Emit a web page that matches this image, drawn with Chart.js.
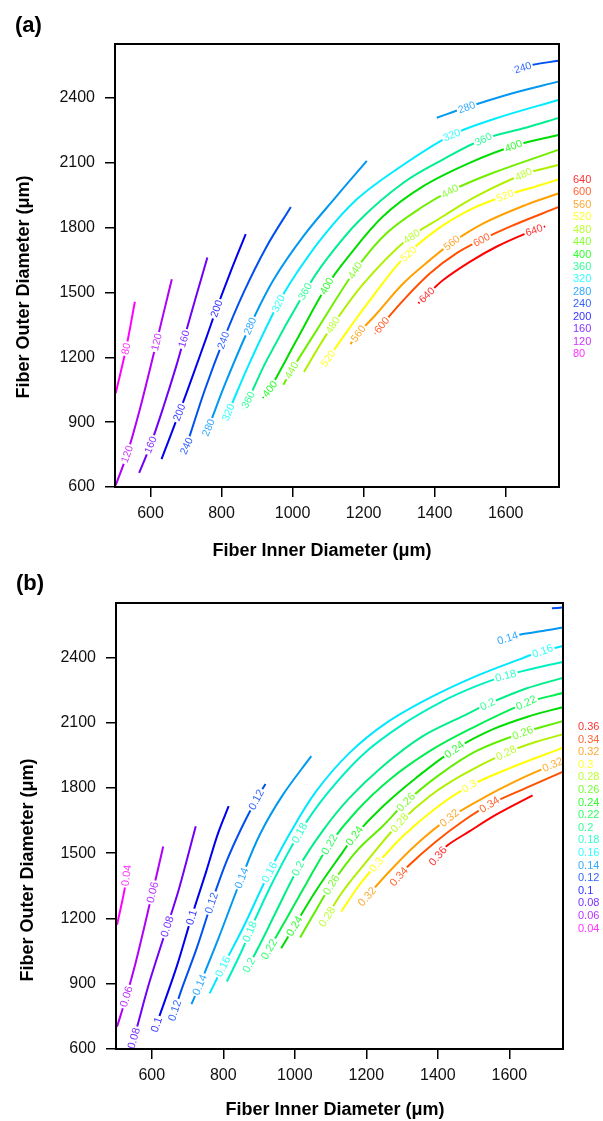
<!DOCTYPE html>
<html>
<head>
<meta charset="utf-8">
<script src="https://cdn.jsdelivr.net/npm/chart.js@4.4.1/dist/chart.umd.min.js"></script>
<style>
  html, body { margin: 0; padding: 0; background: #fff; }
  body { width: 603px; height: 1121px; position: relative; overflow: hidden; }
  .panel { position: absolute; left: 0; width: 603px; }
  #wrapA { top: 0; height: 560px; }
  #wrapB { top: 560px; height: 561px; }
  .tag { position: absolute; font: bold 22px "Liberation Sans", Arial, sans-serif; line-height: 22px; color: #000; }
</style>
</head>
<body>
<div class="panel" id="wrapA"><canvas id="chartA" width="603" height="560"></canvas></div>
<div class="panel" id="wrapB"><canvas id="chartB" width="603" height="561"></canvas></div>
<div class="tag" style="left:15px;top:14px">(a)</div>
<div class="tag" style="left:16px;top:572px">(b)</div>
<script>
// ---- panel (a): contour levels, colours, traced contour pieces [inner, outer] ----
const levelsA = [80, 120, 160, 200, 240, 280, 320, 360, 400, 440, 480, 520, 560, 600, 640];
const lineColA = ['#FF00FF', '#B000F8', '#7000F8', '#0000F0', '#0050F0', '#0098F0', '#00ECFF', '#00EE90', '#00DD00', '#70EE00', '#B0F000', '#FFFF00', '#FFA000', '#FF5000', '#FF0000'];
const textColA = ['#FF33FF', '#CC33FF', '#8833FF', '#3333FF', '#3366FF', '#33AAFF', '#33FFFF', '#33FF99', '#33FF33', '#88FF33', '#BBFF33', '#FFFF33', '#FFAA33', '#FF6633', '#FF3333'];

const A80 = [[502, 1034], [531, 1240], [556, 1457]];
const A120 = [[502, 608], [534, 752], [570, 960], [608, 1210], [636, 1400], [660, 1561]];
const A160 = [[568, 665], [600, 795], [636, 969], [673, 1163], [694, 1285], [728, 1480], [760, 1662]];
const A200 = [[631, 729], [681, 945], [720, 1120], [758, 1295], [786, 1425], [824, 1590], [868, 1770]];
const A240 = [[694, 764], [701, 790], [753, 1050], [805, 1279], [861, 1496], [927, 1713], [995, 1896]];
const A240b = [[1620, 2526], [1673, 2553], [1748, 2572]];
const A280 = [[756, 848], [763, 875], [814, 1093], [880, 1345], [946, 1558], [1030, 1760], [1124, 1946], [1209, 2109]];
const A280b = [[1406, 2309], [1490, 2357], [1612, 2419], [1748, 2476]];
const A320 = [[809, 907], [819, 945], [880, 1178], [960, 1450], [1011, 1589], [1086, 1760], [1180, 1930], [1293, 2070], [1443, 2225], [1565, 2302], [1748, 2391]];
const A360 = [[861, 961], [875, 1003], [927, 1186], [1035, 1505], [1096, 1655], [1190, 1837], [1312, 2008], [1424, 2116], [1537, 2209], [1659, 2264], [1748, 2307]];
const A400 = [[916, 1012], [936, 1054], [1011, 1279], [1096, 1530], [1162, 1677], [1255, 1853], [1368, 1992], [1500, 2101], [1622, 2178], [1748, 2229]];
const A440 = [[974, 1073], [997, 1140], [1068, 1326], [1176, 1602], [1265, 1775], [1368, 1899], [1443, 1969], [1565, 2054], [1748, 2160]];
const A480 = [[1032, 1132], [1068, 1233], [1113, 1349], [1199, 1540], [1321, 1744], [1424, 1853], [1518, 1946], [1650, 2047], [1748, 2090]];
const A520 = [[1096, 1186], [1162, 1340], [1218, 1465], [1312, 1659], [1406, 1791], [1500, 1884], [1598, 1948], [1687, 1992], [1748, 2023]];
const A560 = [[1163, 1261], [1185, 1310], [1237, 1403], [1312, 1543], [1387, 1651], [1448, 1730], [1537, 1820], [1659, 1907], [1748, 1958]];
const A600 = [[1232, 1310], [1251, 1349], [1312, 1465], [1387, 1589], [1462, 1682], [1532, 1744], [1612, 1805], [1748, 1895]];
const A640 = [[1354, 1450], [1378, 1488], [1424, 1558], [1500, 1643], [1575, 1713], [1659, 1775], [1711, 1806]];

// [level, points, inner-diameter values where the inline label sits]
const piecesA = [
  [80, A80, [531]], [120, A120, [534, 617]], [160, A160, [600, 694]], [200, A200, [681, 786]],
  [240, A240, [701, 805]], [240, A240b, [1648]], [280, A280, [763, 880]], [280, A280b, [1490]],
  [320, A320, [819, 960, 1448]], [360, A360, [875, 1035, 1537]], [400, A400, [936, 1096, 1622]],
  [440, A440, [997, 1176, 1443]], [480, A480, [1113, 1335, 1650]], [520, A520, [1100, 1326, 1598]],
  [560, A560, [1185, 1448]], [600, A600, [1251, 1532]], [640, A640, [1378, 1680]],
];

// ---- panel (b) ----
const levelsB = ['0.04', '0.06', '0.08', '0.1', '0.12', '0.14', '0.16', '0.18', '0.2', '0.22', '0.24', '0.26', '0.28', '0.3', '0.32', '0.34', '0.36'];
const lineColB = ['#FF00FF', '#B000F8', '#7000F8', '#0000F0', '#0050F0', '#0098F0', '#00E8FF', '#00F0C0', '#00EE88', '#00EE50', '#00DD00', '#60EE00', '#B0F000', '#FFFF00', '#FFA000', '#FF5000', '#FF0000'];
const textColB = ['#FF33FF', '#BB33FF', '#7733FF', '#3333FF', '#3366FF', '#33AAFF', '#33FFFF', '#33FFCC', '#33FF99', '#33FF66', '#33FF33', '#77FF33', '#BBFF33', '#FFFF33', '#FFAA33', '#FF6633', '#FF3333'];

const B004 = [[503, 1171], [525, 1343], [532, 1439]];
const B006 = [[503, 703], [529, 841], [557, 1010], [602, 1320], [613, 1395], [632, 1531]];
const B008 = [[546, 626], [557, 690], [594, 910], [643, 1163], [674, 1324], [697, 1462], [723, 1624]];
const B010 = [[611, 703], [669, 975], [711, 1205], [753, 1420], [785, 1590], [815, 1716]];
const B012 = [[660, 757], [683, 872], [725, 1060], [767, 1271], [809, 1462], [851, 1616], [892, 1746], [918, 1818]];
const B012b = [[1719, 2626], [1749, 2629]];
const B014 = [[711, 806], [734, 895], [781, 1085], [851, 1386], [902, 1585], [967, 1769], [1046, 1946]];
const B014b = [[1563, 2472], [1623, 2503], [1693, 2521], [1749, 2537]];
const B016 = [[762, 856], [799, 979], [855, 1156], [925, 1400], [986, 1590], [1060, 1785], [1153, 1961], [1256, 2099], [1377, 2214], [1507, 2314], [1628, 2391], [1693, 2429], [1749, 2452]];
const B018 = [[810, 910], [855, 1063], [878, 1156], [939, 1370], [1013, 1593], [1088, 1769], [1190, 1953], [1302, 2092], [1414, 2199], [1507, 2268], [1586, 2314], [1665, 2348], [1749, 2379]];
const B020 = [[860, 948], [902, 1079], [948, 1232], [1009, 1430], [1079, 1605], [1153, 1754], [1246, 1900], [1358, 2038], [1470, 2130], [1539, 2185], [1647, 2257], [1749, 2306]];
const B022 = [[911, 1010], [967, 1171], [1032, 1360], [1097, 1540], [1172, 1693], [1265, 1838], [1377, 1969], [1488, 2069], [1647, 2191], [1749, 2236]];
const B024 = [[962, 1063], [999, 1165], [1060, 1330], [1134, 1505], [1167, 1580], [1246, 1715], [1339, 1846], [1446, 1976], [1553, 2069], [1656, 2130], [1749, 2171]];
const B026 = [[1015, 1113], [1060, 1240], [1102, 1355], [1172, 1508], [1246, 1625], [1311, 1735], [1404, 1860], [1507, 1969], [1637, 2053], [1749, 2107]];
const B028 = [[1079, 1179], [1134, 1324], [1209, 1478], [1293, 1640], [1377, 1762], [1470, 1861], [1591, 1961], [1675, 2012], [1749, 2046]];
const B030 = [[1130, 1232], [1181, 1355], [1228, 1447], [1302, 1578], [1395, 1708], [1488, 1808], [1600, 1890], [1749, 1984]];
const B032 = [[1190, 1278], [1256, 1401], [1339, 1539], [1432, 1662], [1544, 1769], [1637, 1846], [1721, 1907], [1749, 1930]];
const B034 = [[1283, 1378], [1321, 1447], [1395, 1554], [1470, 1647], [1544, 1723], [1647, 1800], [1749, 1874]];
const B036 = [[1391, 1470], [1423, 1531], [1488, 1600], [1563, 1677], [1665, 1766]];

const piecesB = [
  ['0.04', B004, [529]], ['0.06', B006, [529, 602]], ['0.08', B008, [550, 643]], ['0.1', B010, [613, 711]],
  ['0.12', B012, [664, 767, 892]], ['0.12', B012b, []], ['0.14', B014, [734, 851]], ['0.14', B014b, [1595]],
  ['0.16', B016, [799, 929, 1693]], ['0.18', B018, [874, 1013, 1590]], ['0.2', B020, [872, 1009, 1539]],
  ['0.22', B022, [928, 1097, 1647]], ['0.24', B024, [999, 1167, 1446]], ['0.26', B026, [1102, 1311, 1637]],
  ['0.28', B028, [1090, 1293, 1591]], ['0.3', B030, [1228, 1488]], ['0.32', B032, [1202, 1432, 1721]],
  ['0.34', B034, [1291, 1544]], ['0.36', B036, [1400]],
];

const xTicks = [600, 800, 1000, 1200, 1400, 1600];
const yTicks = [600, 900, 1200, 1500, 1800, 2100, 2400];

const FONT = '"Liberation Sans", Arial, sans-serif';

// inline contour labels, frame, legend column and axis titles
const contourDeco = {
  id: 'contourDeco',
  afterDatasetsDraw(chart, args, opts) {
    const { ctx, scales: { x, y } } = chart;
    chart.data.datasets.forEach((ds) => {
      (ds.labelAt || []).forEach((lx) => {
        const pts = ds.data;
        let i = 0;
        while (i < pts.length - 2 && pts[i + 1].x < lx) i++;
        const a = pts[i], b = pts[i + 1];
        const t = (lx - a.x) / (b.x - a.x);
        const ly = a.y + t * (b.y - a.y);
        const px = x.getPixelForValue(lx), py = y.getPixelForValue(ly);
        const ang = Math.atan2(y.getPixelForValue(b.y) - y.getPixelForValue(a.y), x.getPixelForValue(b.x) - x.getPixelForValue(a.x));
        ctx.save();
        ctx.translate(px, py);
        ctx.rotate(ang);
        ctx.font = opts.labelFont;
        const w = ctx.measureText(ds.labelText).width;
        ctx.fillStyle = '#fff';
        ctx.fillRect(-w / 2 - 1.5, -4.5, w + 3, 9);
        ctx.fillStyle = ds.labelColor;
        ctx.textAlign = 'center';
        ctx.textBaseline = 'middle';
        ctx.fillText(ds.labelText, 0, 0.5);
        ctx.restore();
      });
    });
  },
  afterDraw(chart, args, opts) {
    const { ctx, chartArea: ca } = chart;
    ctx.save();
    ctx.strokeStyle = '#000';
    ctx.lineWidth = 2;
    ctx.strokeRect(ca.left, ca.top, ca.right - ca.left, ca.bottom - ca.top);

    ctx.font = opts.legendFont;
    ctx.textAlign = 'left';
    ctx.textBaseline = 'middle';
    const n = opts.legendText.length;
    for (let k = 0; k < n; k++) {
      const idx = n - 1 - k;
      ctx.fillStyle = opts.legendColor[idx];
      ctx.fillText(String(opts.legendText[idx]), opts.legendX, opts.legendY + k * opts.legendStep);
    }

    ctx.fillStyle = '#000';
    ctx.font = 'bold 18px ' + FONT;
    ctx.textAlign = 'center';
    ctx.fillText('Fiber Inner Diameter (\u03bcm)', opts.xTitle[0], opts.xTitle[1]);
    ctx.translate(opts.yTitle[0], opts.yTitle[1]);
    ctx.rotate(-Math.PI / 2);
    ctx.fillText('Fiber Outer Diameter (\u03bcm)', 0, 0);
    ctx.restore();
  },
};

function buildSets(pieces, levels, lineCol, textCol) {
  return pieces.map(([lev, pts, labs]) => {
    const k = levels.indexOf(lev);
    return {
      data: pts.map(([x, y]) => ({ x, y })),
      showLine: true,
      borderColor: lineCol[k],
      borderWidth: 2,
      pointRadius: 0,
      fill: false,
      tension: 0.35,
      labelAt: labs,
      labelText: String(lev),
      labelColor: textCol[k],
    };
  });
}

function makeChart(canvasId, datasets, layout, deco) {
  const tickFont = { family: FONT, size: 16 };
  new Chart(document.getElementById(canvasId).getContext('2d'), {
    type: 'scatter',
    data: { datasets },
    options: {
      responsive: false,
      animation: false,
      devicePixelRatio: 1,
      layout: { padding: layout.padding },
      plugins: { legend: { display: false }, tooltip: { enabled: false }, contourDeco: deco },
      scales: {
        x: {
          type: 'linear', min: 500, max: 1750,
          afterBuildTicks: (s) => { s.ticks = xTicks.map((v) => ({ value: v })); },
          afterFit: (s) => { s.height = layout.xHeight; },
          grid: { drawOnChartArea: false, drawTicks: true, tickLength: 10, color: '#000', lineWidth: 1.5 },
          border: { display: false },
          ticks: { font: tickFont, color: '#111', padding: 7, maxRotation: 0, callback: (v) => String(v) },
        },
        y: {
          type: 'linear', min: 600, max: 2650,
          afterBuildTicks: (s) => { s.ticks = yTicks.map((v) => ({ value: v })); },
          afterFit: (s) => { s.width = layout.yWidth; },
          grid: { drawOnChartArea: false, drawTicks: true, tickLength: 10, color: '#000', lineWidth: 1.5 },
          border: { display: false },
          ticks: { font: tickFont, color: '#111', padding: 10, callback: (v) => String(v) },
        },
      },
    },
    plugins: [contourDeco],
  });
}

makeChart('chartA', buildSets(piecesA, levelsA, lineColA, textColA),
  { padding: { top: 44, left: 0, right: 44, bottom: 0 }, xHeight: 73, yWidth: 115 },
  {
    labelFont: '10.5px ' + FONT, legendFont: '11px ' + FONT,
    legendText: levelsA, legendColor: textColA, legendX: 573, legendY: 180, legendStep: 12.43,
    xTitle: [322, 551], yTitle: [24, 287],
  });

makeChart('chartB', buildSets(piecesB, levelsB, lineColB, textColB),
  { padding: { top: 43, left: 0, right: 40, bottom: 0 }, xHeight: 72, yWidth: 116 },
  {
    labelFont: '11px ' + FONT, legendFont: '11px ' + FONT,
    legendText: levelsB, legendColor: textColB, legendX: 578, legendY: 167, legendStep: 12.6,
    xTitle: [335, 550], yTitle: [28, 310],
  });
</script>
</body>
</html>
